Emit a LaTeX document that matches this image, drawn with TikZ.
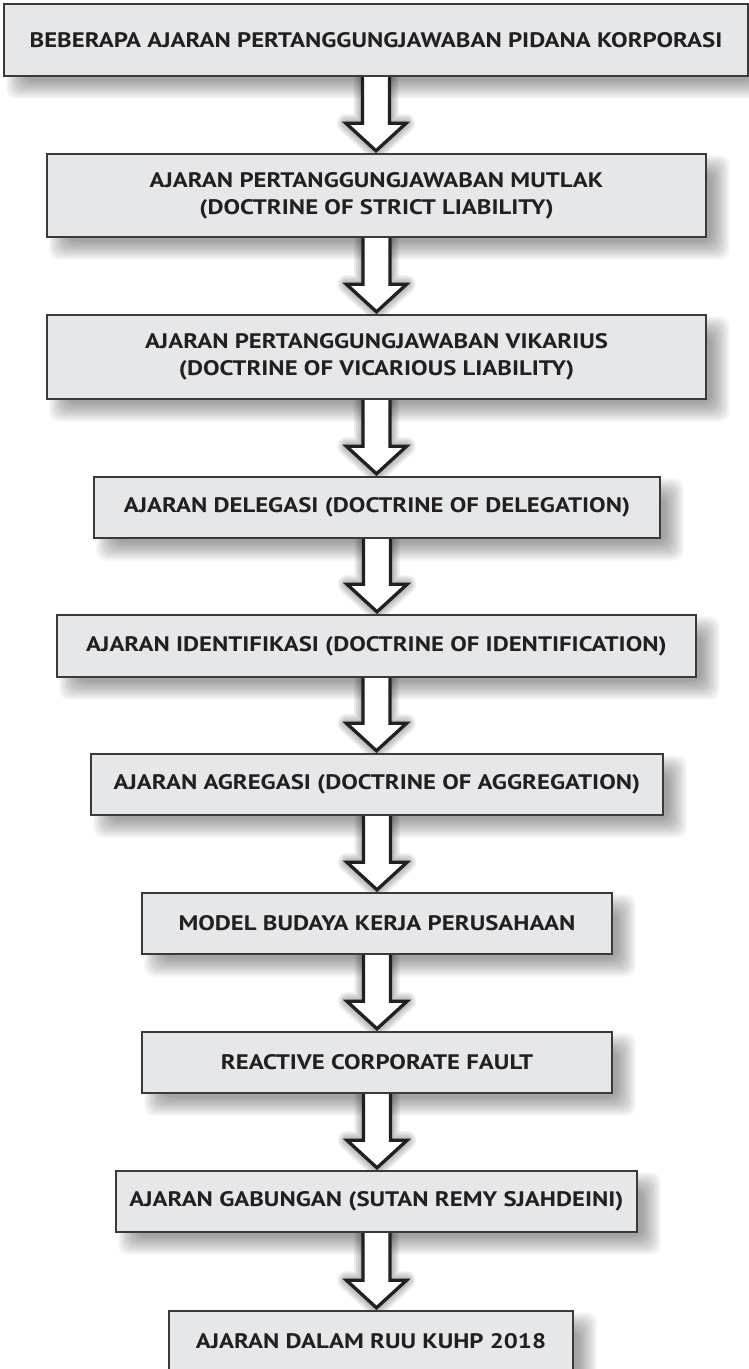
\documentclass[tikz,border=0pt]{standalone}
\usepackage{fontspec}
\setmainfont{PT Sans}[FakeStretch=1.18]
\usetikzlibrary{calc}

\definecolor{boxfill}{HTML}{E6E7E8}
\definecolor{boxline}{HTML}{3A3A3A}
\definecolor{inkblack}{HTML}{231F20}

\pgfdeclarelayer{back}
\pgfdeclarelayer{mid}
\pgfsetlayers{back,mid,main}

\tikzset{
  stepbox/.style={draw=boxline, line width=1.4pt, fill=boxfill, text=inkblack,
    align=center, inner sep=0pt,
    font=\bfseries\fontsize{21}{27}\selectfont},
  shadeband/.style={fill=black, opacity=0.045, rounded corners=10pt},
  arrowshade/.style={fill=black, draw=black, opacity=0.075, line join=round,
    shift={(11,5)}},
  hollowarrow/.style={draw=inkblack, line width=3.3pt, fill=white,
    line join=miter}
}

% Outline of the hollow block arrow from one box down to the next
\newcommand{\arrowoutline}[2]{%
  let \p1=(#1.south), \p2=(#2.north) in
    (\x1-13.5pt,\y1) -- (\x1-13.5pt,\y2+30pt) -- (\x1-30pt,\y2+30pt)
    -- (\x1,\y2+2.5pt) -- (\x1+30pt,\y2+30pt) -- (\x1+13.5pt,\y2+30pt)
    -- (\x1+13.5pt,\y1)}

\begin{document}
\begin{tikzpicture}[x=1pt, y=-1pt]

    % Page frame
    \useasboundingbox (0,0) rectangle (749,1369);

    % The boxes, top to bottom
    \node[stepbox, minimum width=744pt, minimum height=72pt] (b1) at (376,40)
      {BEBERAPA AJARAN PERTANGGUNGJAWABAN PIDANA KORPORASI};
    \node[stepbox, minimum width=659pt, minimum height=83pt] (b2) at (376.5,195.5)
      {AJARAN PERTANGGUNGJAWABAN MUTLAK\\(DOCTRINE OF STRICT LIABILITY)};
    \node[stepbox, minimum width=659pt, minimum height=84pt] (b3) at (376.5,357)
      {AJARAN PERTANGGUNGJAWABAN VIKARIUS\\(DOCTRINE OF VICARIOUS LIABILITY)};
    \node[stepbox, minimum width=566pt, minimum height=61pt] (b4) at (377,507.5)
      {AJARAN DELEGASI (DOCTRINE OF DELEGATION)};
    \node[stepbox, minimum width=639pt, minimum height=62pt] (b5) at (376.5,646)
      {AJARAN IDENTIFIKASI (DOCTRINE OF IDENTIFICATION)};
    \node[stepbox, minimum width=572pt, minimum height=61pt] (b6) at (377,784.5)
      {AJARAN AGREGASI (DOCTRINE OF AGGREGATION)};
    \node[stepbox, minimum width=470pt, minimum height=61pt] (b7) at (377,923.5)
      {MODEL BUDAYA KERJA PERUSAHAAN};
    \node[stepbox, minimum width=470pt, minimum height=61pt] (b8) at (377,1062.5)
      {REACTIVE CORPORATE FAULT};
    \node[stepbox, minimum width=521pt, minimum height=61pt] (b9) at (376.5,1201.5)
      {AJARAN GABUNGAN (SUTAN REMY SJAHDEINI)};
    \node[stepbox, minimum width=404pt, minimum height=61pt] (b10) at (371,1341.5)
      {AJARAN DALAM RUU KUHP 2018};

    % Soft shadows behind boxes and arrows, built from stacked bands
    \begin{pgfonlayer}{back}
      \foreach \n in {b1,b2,b3,b4,b5,b6,b7,b8,b9,b10}
        \foreach \i in {-8,-6,...,10}
          \fill[shadeband] ($(\n.north west)+(13-\i,12-\i)$)
            rectangle ($(\n.south east)+(13+\i,12+\i)$);
      \foreach \a/\b in {b1/b2, b2/b3, b3/b4, b4/b5, b5/b6, b6/b7, b7/b8, b8/b9, b9/b10}
        \foreach \w in {18,14,10,6,2}
          \filldraw[arrowshade, line width=\w pt] \arrowoutline{\a}{\b} -- cycle;
    \end{pgfonlayer}

    % Arrows between consecutive boxes
    \begin{pgfonlayer}{mid}
      \foreach \a/\b in {b1/b2, b2/b3, b3/b4, b4/b5, b5/b6, b6/b7, b7/b8, b8/b9, b9/b10}
        \draw[hollowarrow] \arrowoutline{\a}{\b};
    \end{pgfonlayer}

\end{tikzpicture}
\end{document}
